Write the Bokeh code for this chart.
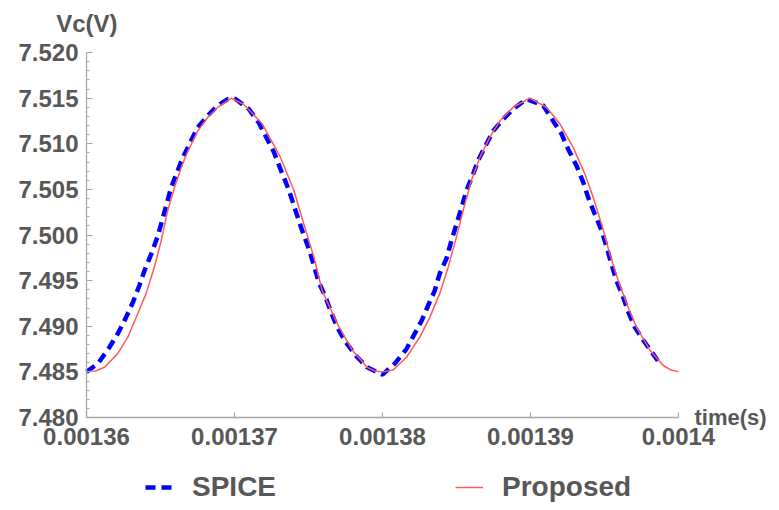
from bokeh.plotting import figure
from bokeh.models import Range1d, FixedTicker, Label, Legend, LegendItem
from bokeh.embed import file_html
from bokeh.resources import INLINE

# ---------------- data ----------------
x_ticks = [0.00136, 0.00137, 0.00138, 0.00139, 0.0014]
x_tick_labels = ["0.00136", "0.00137", "0.00138", "0.00139", "0.0014"]
y_ticks = [7.480, 7.485, 7.490, 7.495, 7.500, 7.505, 7.510, 7.515, 7.520]
y_tick_labels = ["7.480", "7.485", "7.490", "7.495", "7.500", "7.505", "7.510", "7.515", "7.520"]

# time offsets in units of 1e-5 s after 0.00136 s
proposed_u = [0.000, 0.060, 0.122, 0.211, 0.279, 0.347, 0.403, 0.459, 0.505, 0.549,
              0.595, 0.640, 0.685, 0.752, 0.820, 0.887, 0.978, 1.063, 1.187, 1.311,
              1.401, 1.468, 1.536, 1.592, 1.694, 1.795, 1.896, 1.950, 2.000, 2.072, 2.162,
              2.252, 2.320, 2.387, 2.444, 2.500, 2.545, 2.601, 2.658, 2.725, 2.793,
              2.883, 2.995, 3.108, 3.198, 3.288, 3.367, 3.424, 3.480, 3.536, 3.593,
              3.649, 3.716, 3.806, 3.897, 3.950, 4.000]
proposed_v = [7.4850, 7.4851, 7.4855, 7.4870, 7.4888, 7.4914, 7.4936, 7.4965, 7.4994, 7.5027,
              7.5052, 7.5074, 7.5092, 7.5114, 7.5129, 7.5140, 7.5150, 7.5143, 7.5122, 7.5085,
              7.5049, 7.5012, 7.4976, 7.4939, 7.4903, 7.4874, 7.4855, 7.4851, 7.4850, 7.4852, 7.4866,
              7.4888, 7.4910, 7.4936, 7.4965, 7.4998, 7.5027, 7.5060, 7.5085, 7.5107, 7.5125,
              7.5140, 7.5150, 7.5140, 7.5122, 7.5096, 7.5067, 7.5041, 7.5012, 7.4979, 7.4950,
              7.4925, 7.4899, 7.4874, 7.4857, 7.4852, 7.4850]

spice_u = [0.000, 0.077, 0.155, 0.212, 0.268, 0.313, 0.358, 0.392, 0.437, 0.482,
           0.516, 0.572, 0.651, 0.752, 0.820, 0.887, 0.955, 1.007, 1.097, 1.164,
           1.221, 1.266, 1.311, 1.356, 1.390, 1.424, 1.457, 1.502, 1.536, 1.570,
           1.615, 1.649, 1.694, 1.750, 1.818, 1.896, 2.000, 2.083, 2.162, 2.218,
           2.264, 2.309, 2.353, 2.387, 2.432, 2.466, 2.500, 2.534, 2.568, 2.613,
           2.647, 2.703, 2.748, 2.815, 2.883, 2.973, 3.086, 3.153, 3.209, 3.255,
           3.311, 3.356, 3.390, 3.434, 3.480, 3.514, 3.547, 3.581, 3.626, 3.660,
           3.705, 3.761, 3.818, 3.874]
spice_v = [7.4850, 7.4859, 7.4877, 7.4892, 7.4910, 7.4926, 7.4945, 7.4961, 7.4979, 7.4999,
           7.5019, 7.5052, 7.5085, 7.5118, 7.5131, 7.5142, 7.5149, 7.5149, 7.5138, 7.5123,
           7.5105, 7.5091, 7.5072, 7.5054, 7.5038, 7.5021, 7.5005, 7.4985, 7.4967, 7.4948,
           7.4932, 7.4917, 7.4899, 7.4883, 7.4868, 7.4855, 7.4847, 7.4859, 7.4875, 7.4892,
           7.4906, 7.4923, 7.4939, 7.4958, 7.4974, 7.4994, 7.5012, 7.5030, 7.5049, 7.5067,
           7.5082, 7.5100, 7.5114, 7.5127, 7.5138, 7.5149, 7.5142, 7.5125, 7.5111, 7.5094,
           7.5076, 7.5058, 7.5041, 7.5023, 7.5005, 7.4987, 7.4968, 7.4950, 7.4932, 7.4916,
           7.4899, 7.4885, 7.4872, 7.4859]

T0 = 0.00136
proposed_t = [T0 + u * 1e-5 for u in proposed_u]
spice_t = [T0 + u * 1e-5 for u in spice_u]

# ---------------- layout (pixel geometry of the plot box) ----------------
W, H = 771, 502
PX_L, PX_R, PX_T, PX_B = 86, 678, 52, 417   # where the axes box sits on the canvas
sx = (x_ticks[-1] - x_ticks[0]) / (PX_R - PX_L)
sy = (y_ticks[-1] - y_ticks[0]) / (PX_B - PX_T)
x_range = Range1d(x_ticks[0] - PX_L * sx, x_ticks[-1] + (W - PX_R) * sx)
y_range = Range1d(y_ticks[0] - (H - PX_B) * sy, y_ticks[-1] + PX_T * sy)

FONT = "Liberation Sans"
TEXT = "#575757"
AXIS = "#a8a8a8"

p = figure(width=W, height=H, output_backend="svg", toolbar_location=None,
           x_range=x_range, y_range=y_range,
           min_border_left=0, min_border_right=0, min_border_top=0, min_border_bottom=0)
p.outline_line_color = None
p.grid.visible = False
p.background_fill_color = "white"
p.border_fill_color = "white"

r_blue = p.line(spice_t, spice_v, line_color="#0000ff", line_width=4.5, line_dash="10 6")
r_red = p.line(proposed_t, proposed_v, line_color="#ff5a5a", line_width=1.5)

minor_y = [round(y_ticks[0] + i * 0.001, 3) for i in range(41) if i % 5 != 0]
p.yaxis.ticker = FixedTicker(ticks=y_ticks, minor_ticks=minor_y)
p.xaxis.ticker = FixedTicker(ticks=x_ticks)
p.yaxis.major_label_overrides = dict(zip(y_ticks, y_tick_labels))
p.xaxis.major_label_overrides = dict(zip(x_ticks, x_tick_labels))
p.xaxis.fixed_location = y_ticks[0]
p.yaxis.fixed_location = x_ticks[0]
p.xaxis.bounds = (x_ticks[0], x_ticks[-1])
p.yaxis.bounds = (y_ticks[0], y_ticks[-1])

for ax in (p.xaxis[0], p.yaxis[0]):
    ax.axis_line_color = AXIS
    ax.axis_line_width = 1.3
    ax.major_tick_line_color = AXIS
    ax.major_tick_line_width = 1.2
    ax.minor_tick_line_color = AXIS
    ax.major_tick_out = 0
    ax.minor_tick_out = 0
    ax.major_label_text_font_style = "bold"
    ax.major_label_text_font_size = "24px"
    ax.major_label_text_color = TEXT

p.xaxis.major_label_text_font = "Arial"
p.yaxis.major_label_text_font = "'Liberation Sans'"

p.yaxis.major_tick_in = 6
p.yaxis.minor_tick_in = 3
p.yaxis.major_label_standoff = 8
p.xaxis.major_tick_in = 5
p.xaxis.minor_tick_line_color = None
p.xaxis.major_label_standoff = 10

p.add_layout(Label(x=x_ticks[0], y=y_ticks[-1], text="Vc(V)", x_offset=31, y_offset=29,
                   text_align="right", text_baseline="alphabetic", text_font=FONT,
                   text_font_style="bold", text_font_size="24px", text_color=TEXT))
p.add_layout(Label(x=x_ticks[-1], y=y_ticks[0], text="time(s)", x_offset=16, y_offset=0,
                   text_align="left", text_baseline="middle", text_font=FONT,
                   text_font_style="bold", text_font_size="22px", text_color=TEXT))

legend = Legend(items=[LegendItem(label="SPICE", renderers=[r_blue]),
                       LegendItem(label="Proposed", renderers=[r_red])],
                orientation="horizontal", location=(145, -1), spacing=179,
                glyph_width=28, glyph_height=28, label_height=28, label_standoff=19,
                padding=0, margin=0, border_line_color=None, background_fill_alpha=0,
                label_text_font=FONT, label_text_font_style="bold",
                label_text_font_size="28px", label_text_color=TEXT)
p.add_layout(legend, "center")

open("out.html", "w").write(file_html(p, INLINE))
